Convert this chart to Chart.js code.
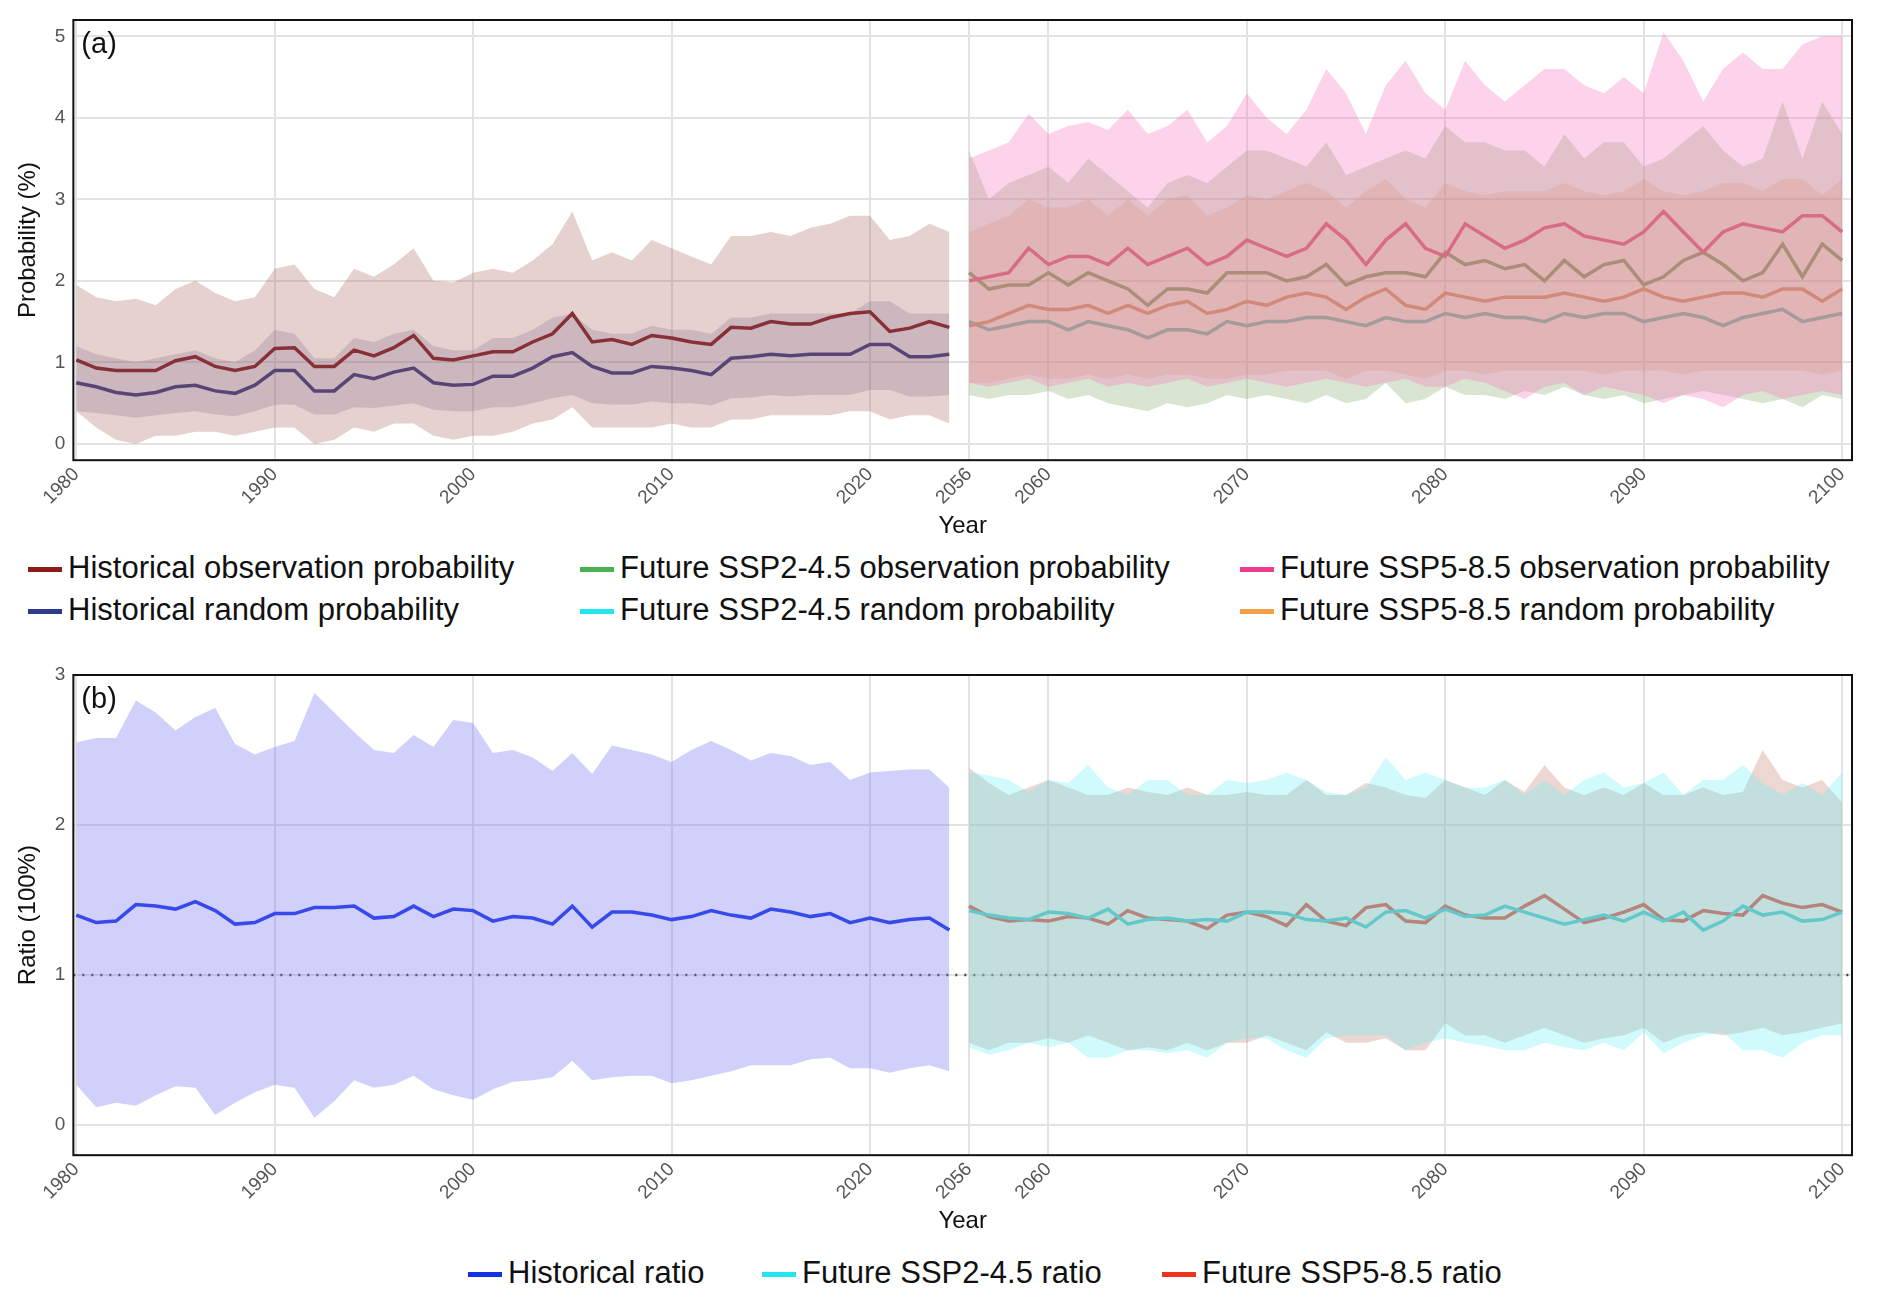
<!DOCTYPE html>
<html><head><meta charset="utf-8">
<script src="https://cdn.jsdelivr.net/npm/chart.js@4"></script>
<style>
body{margin:0;background:#fff;font-family:"Liberation Sans",Arial,sans-serif;width:1892px;height:1309px;overflow:hidden}
.c{position:absolute;left:0;width:1892px}
.leg{position:absolute;font-size:31px;color:#111}
.leg span{position:absolute;white-space:nowrap}
.leg i{display:inline-block;width:34px;height:5px;vertical-align:middle;margin-right:6px}
</style></head><body>
<div class="c" style="top:0;height:545px"><canvas id="a"></canvas></div>
<div class="leg" style="top:550px;left:0;width:1892px;height:90px">
<span style="left:28px;top:0"><i style="background:#8b1a1a"></i>Historical observation probability</span>
<span style="left:28px;top:42px"><i style="background:#2e3a8c"></i>Historical random probability</span>
<span style="left:580px;top:0"><i style="background:#4caf50"></i>Future SSP2-4.5 observation probability</span>
<span style="left:580px;top:42px"><i style="background:#22e5f0"></i>Future SSP2-4.5 random probability</span>
<span style="left:1240px;top:0"><i style="background:#ee3d8f"></i>Future SSP5-8.5 observation probability</span>
<span style="left:1240px;top:42px"><i style="background:#f5a04a"></i>Future SSP5-8.5 random probability</span>
</div>
<div class="c" style="top:655px;height:585px"><canvas id="b"></canvas></div>
<div class="leg" style="top:1255px;left:0;width:1892px;height:45px">
<span style="left:468px;top:0"><i style="background:#1530e8"></i>Historical ratio</span>
<span style="left:762px;top:0"><i style="background:#22e5f0"></i>Future SSP2-4.5 ratio</span>
<span style="left:1162px;top:0"><i style="background:#f0321e"></i>Future SSP5-8.5 ratio</span>
</div>
<script>
const histYears=[];for(let y=1980;y<=2024;y++)histYears.push(y);
const futYears=[];for(let y=2056;y<=2100;y++)futYears.push(y);
const tickYears=[1980,1990,2000,2010,2020,2056,2060,2070,2080,2090,2100];

// Panel (a)
const histObs=[1.03,0.93,0.9,0.9,0.9,1.02,1.07,0.95,0.9,0.95,1.17,1.18,0.95,0.95,1.15,1.08,1.18,1.33,1.05,1.03,1.08,1.13,1.13,1.25,1.35,1.6,1.25,1.28,1.22,1.33,1.3,1.25,1.22,1.43,1.42,1.5,1.47,1.47,1.55,1.6,1.62,1.38,1.42,1.5,1.43];
const histRnd=[0.75,0.7,0.63,0.6,0.63,0.7,0.72,0.65,0.62,0.72,0.9,0.9,0.65,0.65,0.85,0.8,0.88,0.93,0.75,0.72,0.73,0.83,0.83,0.93,1.07,1.12,0.95,0.87,0.87,0.95,0.93,0.9,0.85,1.05,1.07,1.1,1.08,1.1,1.1,1.1,1.22,1.22,1.07,1.07,1.1];
const histObsUp=[1.95,1.8,1.75,1.78,1.7,1.9,2.0,1.85,1.75,1.8,2.15,2.2,1.9,1.8,2.15,2.05,2.2,2.4,2.0,1.98,2.1,2.15,2.1,2.25,2.45,2.85,2.25,2.35,2.25,2.5,2.4,2.3,2.2,2.55,2.55,2.6,2.55,2.65,2.7,2.8,2.8,2.5,2.55,2.7,2.6];
const histObsLo=[0.4,0.2,0.05,0,0.1,0.1,0.15,0.15,0.1,0.15,0.2,0.2,0,0.05,0.2,0.15,0.25,0.25,0.1,0.05,0.1,0.1,0.15,0.25,0.3,0.45,0.2,0.2,0.2,0.2,0.25,0.2,0.2,0.3,0.3,0.35,0.35,0.35,0.35,0.4,0.4,0.3,0.35,0.35,0.25];
const histRndUp=[1.2,1.1,1.05,1.0,1.05,1.1,1.15,1.05,1.0,1.15,1.4,1.35,1.05,1.05,1.3,1.25,1.35,1.4,1.2,1.15,1.15,1.3,1.3,1.4,1.55,1.6,1.4,1.35,1.35,1.45,1.4,1.4,1.35,1.55,1.55,1.6,1.6,1.6,1.6,1.6,1.75,1.75,1.6,1.6,1.6];
const histRndLo=[0.4,0.38,0.35,0.32,0.35,0.38,0.4,0.36,0.34,0.4,0.48,0.48,0.36,0.36,0.45,0.44,0.47,0.5,0.42,0.4,0.4,0.45,0.45,0.5,0.56,0.6,0.5,0.48,0.48,0.52,0.5,0.5,0.47,0.56,0.57,0.6,0.58,0.6,0.6,0.6,0.66,0.66,0.58,0.58,0.6];
const s5Obs=[2.0,2.05,2.1,2.4,2.2,2.3,2.3,2.2,2.4,2.2,2.3,2.4,2.2,2.3,2.5,2.4,2.3,2.4,2.7,2.5,2.2,2.5,2.7,2.4,2.3,2.7,2.55,2.4,2.5,2.65,2.7,2.55,2.5,2.45,2.6,2.85,2.6,2.35,2.6,2.7,2.65,2.6,2.8,2.8,2.6];
const s2Obs=[2.1,1.9,1.95,1.95,2.1,1.95,2.1,2.0,1.9,1.7,1.9,1.9,1.85,2.1,2.1,2.1,2.0,2.05,2.2,1.95,2.05,2.1,2.1,2.05,2.35,2.2,2.25,2.15,2.2,2.0,2.25,2.05,2.2,2.25,1.95,2.05,2.25,2.35,2.2,2.0,2.1,2.45,2.05,2.45,2.25];
const s5Rnd=[1.45,1.5,1.6,1.7,1.65,1.65,1.7,1.6,1.7,1.6,1.7,1.75,1.6,1.65,1.75,1.7,1.8,1.85,1.8,1.65,1.8,1.9,1.7,1.65,1.85,1.8,1.75,1.8,1.8,1.8,1.85,1.8,1.75,1.8,1.9,1.8,1.75,1.8,1.85,1.85,1.8,1.9,1.9,1.75,1.9];
const s2Rnd=[1.5,1.4,1.45,1.5,1.5,1.4,1.5,1.45,1.4,1.3,1.4,1.4,1.35,1.5,1.45,1.5,1.5,1.55,1.55,1.5,1.45,1.55,1.5,1.5,1.6,1.55,1.6,1.55,1.55,1.5,1.6,1.55,1.6,1.6,1.5,1.55,1.6,1.55,1.45,1.55,1.6,1.65,1.5,1.55,1.6];
const s5ObsUp=[3.5,3.6,3.7,4.05,3.8,3.9,3.95,3.85,4.1,3.8,3.9,4.1,3.7,3.9,4.3,4.0,3.8,4.1,4.6,4.3,3.8,4.4,4.7,4.3,4.1,4.7,4.4,4.2,4.4,4.6,4.6,4.4,4.3,4.5,4.3,5.05,4.7,4.2,4.6,4.8,4.6,4.6,4.9,5.0,5.0];
const s5ObsLo=[0.75,0.7,0.75,0.8,0.7,0.75,0.8,0.7,0.75,0.7,0.75,0.8,0.7,0.75,0.8,0.75,0.7,0.75,0.8,0.75,0.7,0.75,0.8,0.7,0.7,0.8,0.75,0.65,0.55,0.7,0.75,0.6,0.7,0.65,0.6,0.5,0.6,0.55,0.45,0.6,0.65,0.55,0.6,0.65,0.6];
const s2ObsUp=[3.6,3.0,3.2,3.3,3.4,3.2,3.5,3.3,3.1,2.9,3.2,3.3,3.2,3.4,3.6,3.6,3.5,3.4,3.7,3.3,3.4,3.5,3.6,3.5,3.9,3.7,3.7,3.6,3.6,3.4,3.8,3.5,3.7,3.7,3.4,3.5,3.7,3.9,3.6,3.4,3.5,4.2,3.5,4.2,3.8];
const s2ObsLo=[0.6,0.55,0.6,0.6,0.65,0.55,0.6,0.5,0.45,0.4,0.5,0.45,0.5,0.6,0.55,0.6,0.55,0.5,0.6,0.5,0.55,0.75,0.5,0.55,0.7,0.6,0.6,0.55,0.65,0.6,0.7,0.6,0.55,0.6,0.5,0.55,0.6,0.65,0.6,0.55,0.5,0.55,0.45,0.6,0.55];
const s5RndUp=[2.6,2.7,2.8,3.0,2.9,2.9,3.0,2.8,3.0,2.8,3.0,3.05,2.8,2.9,3.05,3.0,3.1,3.2,3.1,2.9,3.1,3.25,3.0,2.9,3.2,3.1,3.05,3.1,3.1,3.1,3.2,3.1,3.05,3.1,3.25,3.1,3.05,3.1,3.2,3.2,3.1,3.25,3.25,3.05,3.25];
const s5RndLo=[0.75,0.75,0.8,0.85,0.8,0.8,0.85,0.8,0.85,0.8,0.85,0.85,0.8,0.8,0.85,0.85,0.9,0.9,0.9,0.8,0.9,0.9,0.85,0.8,0.9,0.9,0.85,0.9,0.9,0.9,0.9,0.9,0.85,0.9,0.9,0.9,0.85,0.9,0.9,0.9,0.9,0.9,0.9,0.85,0.9];

// Panel (b)
const histRatio=[1.4,1.35,1.36,1.47,1.46,1.44,1.49,1.43,1.34,1.35,1.41,1.41,1.45,1.45,1.46,1.38,1.39,1.46,1.39,1.44,1.43,1.36,1.39,1.38,1.34,1.46,1.32,1.42,1.42,1.4,1.37,1.39,1.43,1.4,1.38,1.44,1.42,1.39,1.41,1.35,1.38,1.35,1.37,1.38,1.3];
const histRatioUp=[2.55,2.58,2.58,2.83,2.75,2.63,2.72,2.78,2.54,2.47,2.52,2.56,2.88,2.75,2.62,2.5,2.48,2.6,2.52,2.7,2.68,2.48,2.5,2.45,2.36,2.48,2.34,2.53,2.5,2.47,2.42,2.5,2.56,2.5,2.43,2.48,2.46,2.4,2.42,2.3,2.35,2.36,2.37,2.37,2.25];
const histRatioLo=[0.27,0.12,0.15,0.13,0.2,0.26,0.25,0.07,0.15,0.22,0.27,0.25,0.05,0.16,0.3,0.25,0.27,0.33,0.24,0.2,0.17,0.24,0.29,0.3,0.32,0.43,0.3,0.32,0.33,0.33,0.28,0.3,0.33,0.36,0.4,0.4,0.4,0.44,0.45,0.38,0.38,0.35,0.38,0.4,0.36];
const s2Ratio=[1.43,1.4,1.38,1.37,1.42,1.41,1.38,1.44,1.34,1.37,1.38,1.36,1.37,1.36,1.42,1.42,1.41,1.37,1.36,1.38,1.32,1.42,1.43,1.38,1.44,1.39,1.4,1.46,1.42,1.38,1.34,1.37,1.4,1.36,1.42,1.36,1.42,1.3,1.36,1.46,1.4,1.42,1.36,1.37,1.42];
const s5Ratio=[1.46,1.39,1.36,1.37,1.36,1.39,1.38,1.34,1.43,1.38,1.37,1.36,1.31,1.4,1.42,1.39,1.33,1.47,1.36,1.33,1.45,1.47,1.36,1.35,1.46,1.4,1.38,1.38,1.46,1.53,1.44,1.35,1.38,1.42,1.47,1.37,1.36,1.43,1.41,1.4,1.53,1.48,1.45,1.47,1.42];
const s2RatioUp=[2.35,2.33,2.3,2.22,2.3,2.28,2.4,2.25,2.2,2.3,2.3,2.2,2.2,2.3,2.28,2.3,2.35,2.3,2.22,2.2,2.25,2.45,2.3,2.35,2.3,2.25,2.25,2.3,2.2,2.3,2.2,2.3,2.35,2.25,2.28,2.35,2.2,2.3,2.3,2.4,2.28,2.2,2.28,2.2,2.35];
const s2RatioLo=[0.52,0.47,0.5,0.55,0.52,0.55,0.45,0.45,0.5,0.5,0.48,0.5,0.45,0.55,0.58,0.58,0.5,0.45,0.58,0.6,0.6,0.6,0.5,0.55,0.58,0.55,0.53,0.5,0.5,0.55,0.52,0.5,0.55,0.5,0.62,0.48,0.55,0.6,0.62,0.5,0.5,0.45,0.55,0.6,0.6];
const s5RatioUp=[2.38,2.28,2.2,2.25,2.3,2.25,2.2,2.2,2.25,2.22,2.2,2.25,2.2,2.2,2.22,2.2,2.2,2.3,2.2,2.2,2.28,2.25,2.2,2.18,2.3,2.25,2.2,2.3,2.22,2.4,2.25,2.2,2.25,2.2,2.28,2.2,2.2,2.25,2.2,2.22,2.5,2.3,2.25,2.3,2.15];
const s5RatioLo=[0.55,0.5,0.55,0.55,0.58,0.55,0.6,0.55,0.5,0.52,0.5,0.55,0.5,0.55,0.55,0.6,0.55,0.5,0.62,0.55,0.55,0.58,0.5,0.5,0.68,0.6,0.6,0.55,0.6,0.65,0.6,0.55,0.58,0.6,0.65,0.55,0.6,0.62,0.6,0.62,0.65,0.6,0.62,0.65,0.68];

const hx=y=>y-1980, fx=y=>y-2011;
const H=a=>a.map((v,i)=>({x:hx(histYears[i]),y:v}));
const F=a=>a.map((v,i)=>({x:fx(futYears[i]),y:v}));
const line=(lab,d,c)=>({label:lab,data:d,borderColor:c,borderWidth:3.5,pointRadius:0,fill:false,tension:0});
const band=(d,c,fillTo)=>({data:d,borderWidth:0,pointRadius:0,backgroundColor:c,fill:fillTo,tension:0});

const frame={id:'frame',afterDraw(ch){const a=ch.chartArea,g=ch.ctx;g.save();g.strokeStyle='#111';g.lineWidth=2;g.strokeRect(a.left,a.top,a.right-a.left,a.bottom-a.top);
 g.fillStyle='#111';g.font='29px "Liberation Sans", Arial';g.textBaseline='top';g.fillText(ch.options.plugins.tag,a.left+8,a.top+10);g.restore();}};
const dotted={id:'dotted',beforeDatasetsDraw(ch){if(!ch.options.plugins.refLine)return;const a=ch.chartArea,g=ch.ctx,y=ch.scales.y.getPixelForValue(1);
 g.save();g.strokeStyle='#444';g.lineWidth=2.5;g.setLineDash([2,7]);g.beginPath();g.moveTo(a.left,y);g.lineTo(a.right,y);g.stroke();g.restore();}};

function opts(ymax,ytitle,tag,ref){return{responsive:true,maintainAspectRatio:false,animation:false,
 layout:{padding:{left:10,right:40,top:20,bottom:0}},
 plugins:{legend:{display:false},tooltip:{enabled:false},tag:tag,refLine:ref},
 scales:{x:{type:'linear',min:-0.15,max:89.5,
   afterBuildTicks(s){s.ticks=tickYears.map(y=>({value:y<2050?hx(y):fx(y)}));},
   ticks:{autoSkip:false,maxRotation:45,minRotation:45,color:'#555',font:{size:19},
     callback(v){const y=v<=44?v+1980:v+2011;return String(y);}},
   grid:{color:'#e3e3e3',lineWidth:2,drawTicks:false},border:{display:false},
   title:{display:true,text:'Year',font:{size:24},color:'#111',padding:{top:0}}},
  y:{min:-0.2,max:ymax,afterBuildTicks(s){s.ticks=[0,1,2,3,4,5].filter(v=>v<=ymax).map(v=>({value:v}));},
   ticks:{color:'#555',font:{size:19},padding:8},grid:{color:'#e3e3e3',lineWidth:2,drawTicks:false},border:{display:false},
   title:{display:true,text:ytitle,font:{size:24},color:'#111'}}}};}

new Chart(document.getElementById('a'),{type:'line',plugins:[frame,dotted],data:{datasets:[
 band(H(histObsUp),'rgba(160,90,80,0.28)',false),band(H(histObsLo),'rgba(160,90,80,0.28)','-1'),
 band(H(histRndUp),'rgba(70,60,140,0.18)',false),band(H(histRndLo),'rgba(70,60,140,0.18)','-1'),
 band(F(s5ObsUp),'rgba(250,110,190,0.3)',false),band(F(s5ObsLo),'rgba(250,110,190,0.3)','-1'),
 band(F(s2ObsUp),'rgba(120,160,90,0.28)',false),band(F(s2ObsLo),'rgba(120,160,90,0.28)','-1'),
 band(F(s5RndUp),'rgba(240,150,90,0.25)',false),band(F(s5RndLo),'rgba(240,150,90,0.25)','-1'),
 line('Historical observation probability',H(histObs),'#8b1a1a'),
 line('Historical random probability',H(histRnd),'#3a3f85'),
 line('Future SSP5-8.5 observation probability',F(s5Obs),'#e8407e'),
 line('Future SSP2-4.5 observation probability',F(s2Obs),'#6f9c5a'),
 line('Future SSP5-8.5 random probability',F(s5Rnd),'#dc9060'),
 line('Future SSP2-4.5 random probability',F(s2Rnd),'#62bdbd')
]},options:opts(5.2,'Probability (%)','(a)',false)});

new Chart(document.getElementById('b'),{type:'line',plugins:[frame,dotted],data:{datasets:[
 band(H(histRatioUp),'rgba(120,120,240,0.35)',false),band(H(histRatioLo),'rgba(120,120,240,0.35)','-1'),
 band(F(s2RatioUp),'rgba(100,240,245,0.3)',false),band(F(s2RatioLo),'rgba(100,240,245,0.3)','-1'),
 band(F(s5RatioUp),'rgba(240,120,120,0.3)',false),band(F(s5RatioLo),'rgba(200,140,130,0.35)','-1'),
 line('Historical ratio',H(histRatio),'#1530e8'),
 line('Future SSP2-4.5 ratio',F(s2Ratio),'#30d0d8'),
 line('Future SSP5-8.5 ratio',F(s5Ratio),'#e03a2a')
]},options:opts(3.0,'Ratio (100%)','(b)',true)});
</script></body></html>
